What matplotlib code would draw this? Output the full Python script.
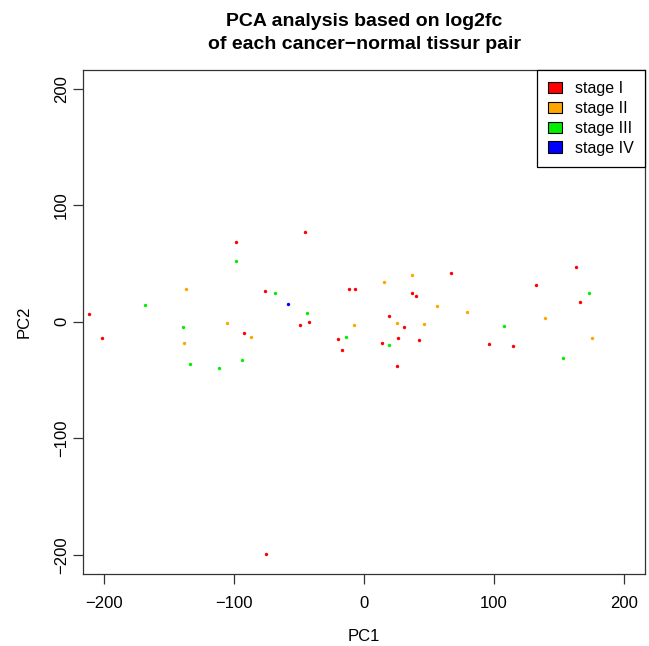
import matplotlib.pyplot as plt
from matplotlib.patches import Patch

# --- data (PC1, PC2 per sample) ---
stage1_pc1 = [-211.3, -201.3, -98.2, -75.9, -92.1, -45.4, -42.6, -49.2, -11.3, -6.7,
              -20.2, -17.2, 67.2, 36.7, 39.7, 19.5, 31.0, 26.2, 42.6, 13.6,
              25.6, 163.3, 132.5, 166.4, 95.9, 114.4, -75.0]
stage1_pc2 = [6.4, -13.7, 68.4, 26.5, -9.9, 76.6, 0.1, -3.0, 28.5, 28.5,
              -15.0, -24.2, 41.4, 24.8, 22.5, 5.0, -4.5, -13.6, -15.6, -18.2,
              -37.7, 46.9, 31.6, 17.3, -19.3, -21.1, -199.0]

stage2_pc1 = [-136.9, -138.2, -105.1, -86.7, -7.9, 15.4, 37.2, 56.2, 79.0, 25.1,
              46.4, 139.2, 175.6]
stage2_pc2 = [28.2, -18.0, -1.0, -12.8, -3.0, 34.5, 40.0, 13.9, 8.2, -0.7,
              -2.2, 3.3, -13.9]

stage3_pc1 = [-168.2, -139.5, -133.8, -111.8, -98.2, -68.5, -93.6, -44.1, -13.8, 19.0,
              172.8, 107.9, 152.8]
stage3_pc2 = [14.2, -4.7, -36.3, -39.5, 51.7, 25.0, -32.6, 7.8, -13.4, -20.2,
              25.0, -3.9, -31.1]

stage4_pc1 = [-58.2]
stage4_pc2 = [15.3]

stages = ['stage I', 'stage II', 'stage III', 'stage IV']
colors = ['red', 'orange', '#00ee00', 'blue']

plt.rcParams['font.family'] = ['Liberation Sans', 'DejaVu Sans']

fig = plt.figure(figsize=(6.49, 6.46), dpi=100)
ax = fig.add_axes([83 / 649, 1 - 573.5 / 646, 562 / 649, 503.5 / 646])

series = [(stage1_pc1, stage1_pc2), (stage2_pc1, stage2_pc2),
          (stage3_pc1, stage3_pc2), (stage4_pc1, stage4_pc2)]
for (xs, ys), col in zip(series, colors):
    ax.scatter(xs, ys, s=6, color=col, linewidths=0)

# R-style 4% padding around (-200, 200)
ax.set_xlim(-216, 216)
ax.set_ylim(-216, 216)
ax.set_xticks([-200, -100, 0, 100, 200])
ax.set_yticks([-200, -100, 0, 100, 200])
ax.tick_params(direction='out', length=7, width=0.9, labelsize=12, colors='#333333',
               labelcolor='black')
ax.tick_params(axis='x', pad=9)
ax.tick_params(axis='y', pad=3)
for lab in ax.get_yticklabels():
    lab.set_rotation(90)
    lab.set_va('center')
for sp in ax.spines.values():
    sp.set_linewidth(0.9)
    sp.set_color('#333333')

ax.set_xlabel('PC1', fontsize=12, labelpad=13)
ax.set_ylabel('PC2', fontsize=12, labelpad=16)
ax.set_title('PCA analysis based on log2fc\nof each cancer\u2212normal tissur pair',
             fontsize=14, fontweight='bold', pad=15, linespacing=1.5)

handles = [Patch(facecolor=c, edgecolor='black', linewidth=0.8) for c in colors]
leg = ax.legend(handles, stages, loc='upper right', borderaxespad=0, fontsize=11.5,
                fancybox=False, framealpha=1, edgecolor='black', handlelength=0.85,
                handleheight=0.75, handletextpad=0.85, labelspacing=0.31,
                borderpad=0.69)
leg.get_frame().set_linewidth(0.9)

fig.savefig('out.png', dpi=100)
